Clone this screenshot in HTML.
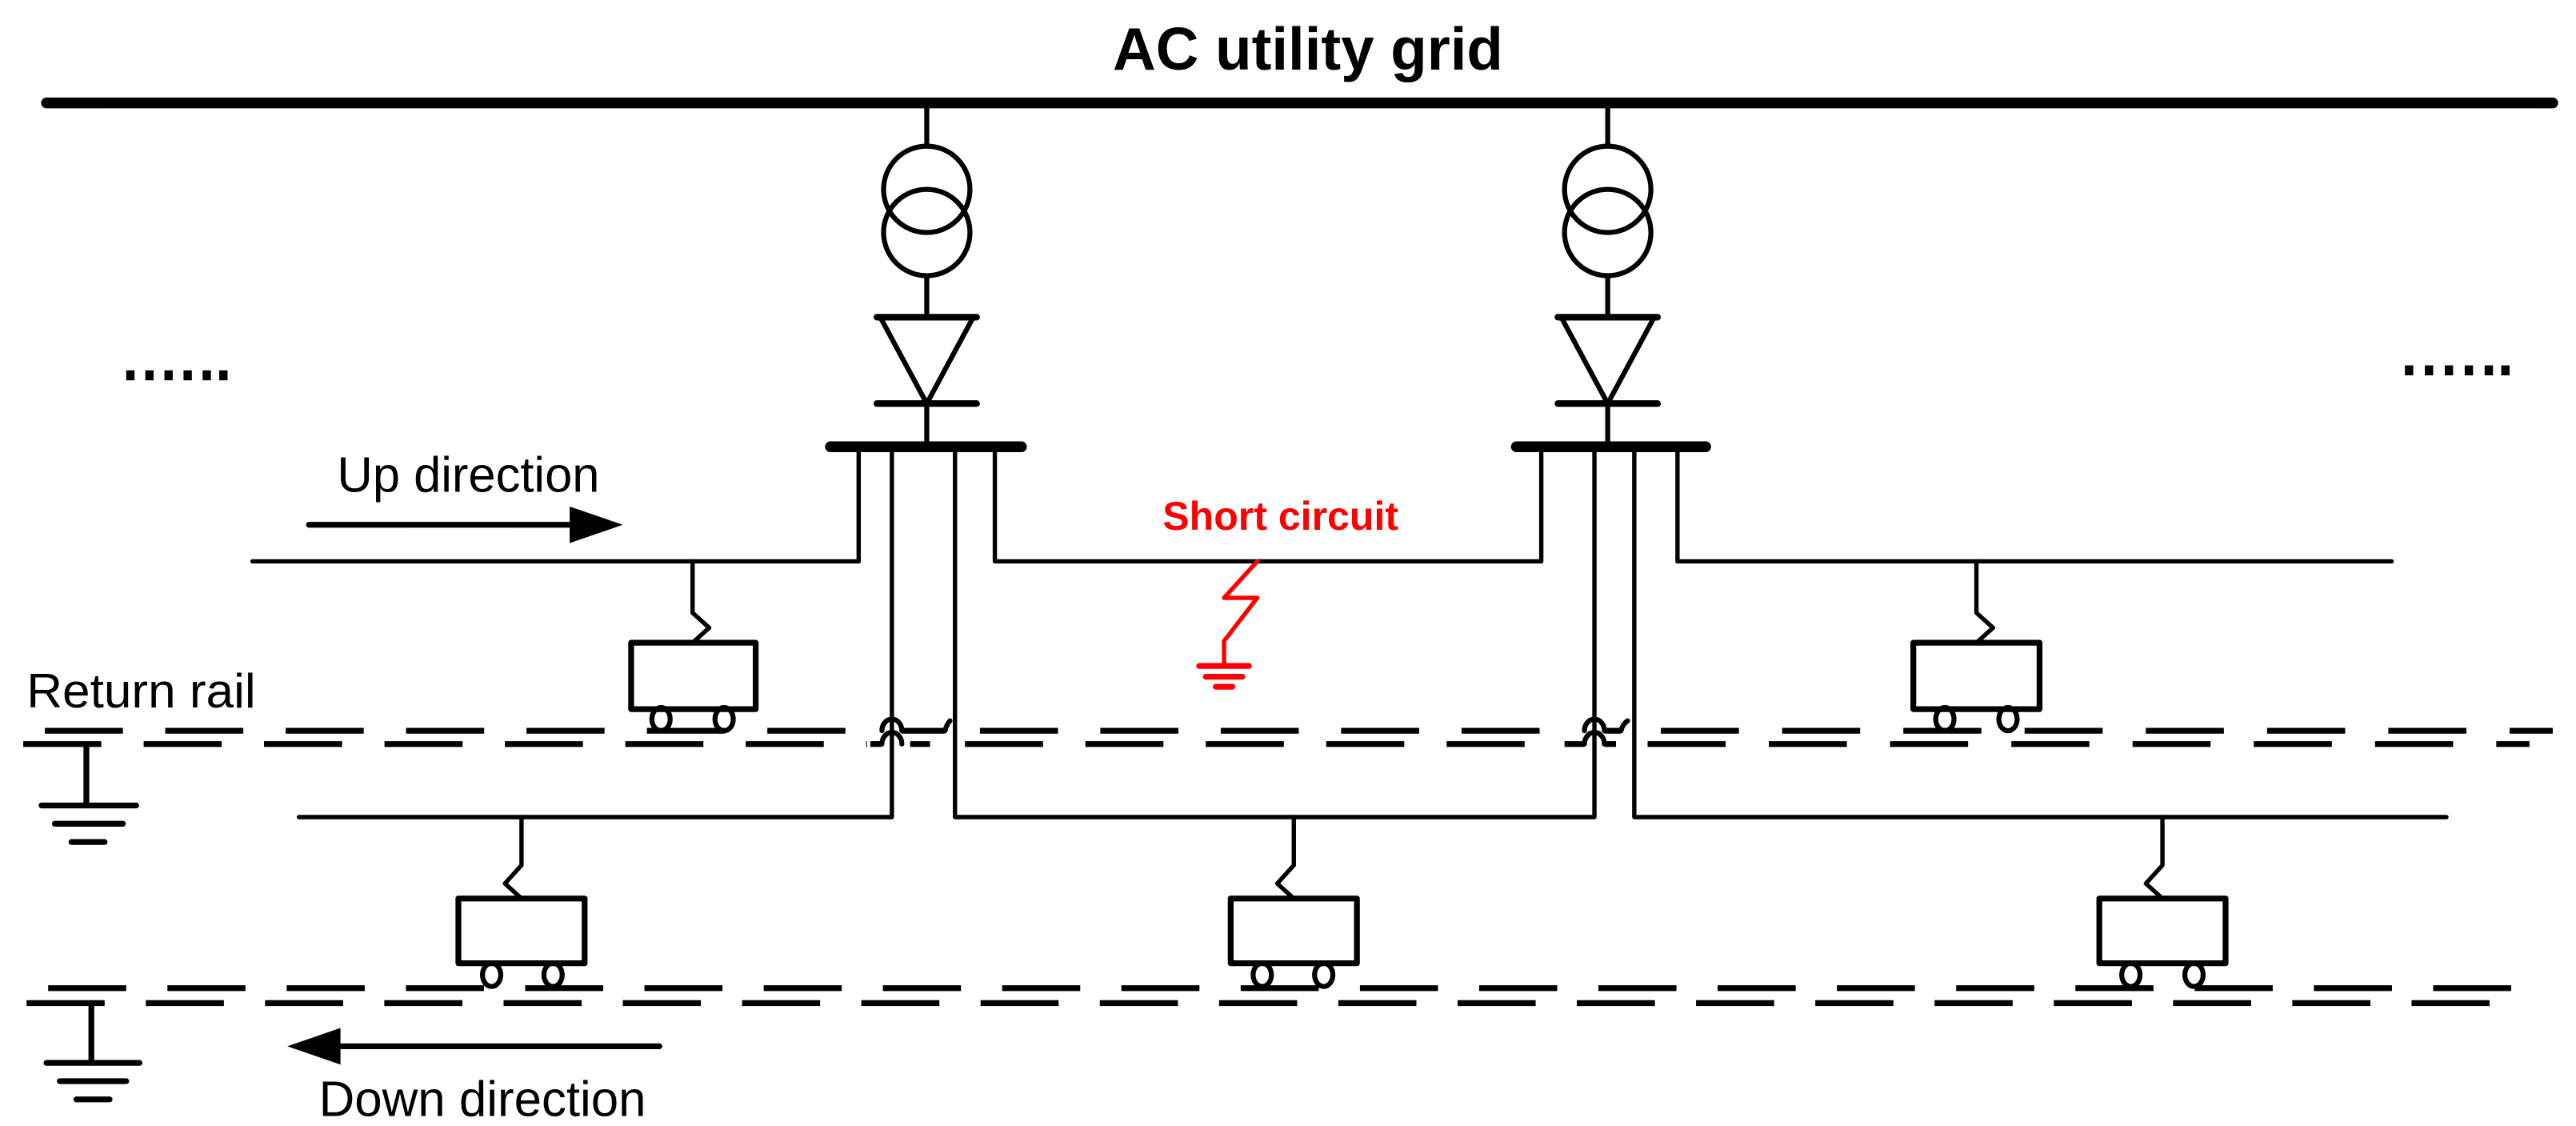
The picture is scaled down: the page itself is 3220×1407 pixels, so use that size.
<!DOCTYPE html>
<html><head><meta charset="utf-8"><style>html,body{margin:0;padding:0;background:#fff}svg{display:block}</style></head>
<body>
<svg width="3220" height="1407" viewBox="0 0 1551 678" preserveAspectRatio="none" xmlns="http://www.w3.org/2000/svg">
<g font-family="Liberation Sans, Arial, sans-serif">
<text x="670" y="42" font-size="36" font-weight="bold" textLength="235" lengthAdjust="spacingAndGlyphs">AC utility grid</text>
<text x="203" y="296" font-size="30" textLength="158" lengthAdjust="spacingAndGlyphs">Up direction</text>
<text x="16" y="426" font-size="29" textLength="138" lengthAdjust="spacingAndGlyphs">Return rail</text>
<text x="192" y="672" font-size="30" textLength="197" lengthAdjust="spacingAndGlyphs">Down direction</text>
<text x="700" y="319" font-size="24" font-weight="bold" fill="#f00" textLength="142" lengthAdjust="spacingAndGlyphs">Short circuit</text>
</g>
<g fill="#000">
<rect x="76" y="223" width="5" height="6"/><rect x="87.5" y="223" width="5" height="6"/><rect x="99" y="223" width="5" height="6"/><rect x="110.5" y="223" width="5" height="6"/><rect x="122" y="223" width="5" height="6"/><rect x="132" y="223" width="5" height="6"/>
<rect x="1448" y="220" width="5" height="6"/><rect x="1460" y="220" width="5" height="6"/><rect x="1472" y="220" width="5" height="6"/><rect x="1484" y="220" width="5" height="6"/><rect x="1496" y="220" width="5" height="6"/><rect x="1506" y="220" width="5" height="6"/>
<polygon points="343,305 375,316 343,327"/>
<polygon points="205,619 173,630 205,641"/>
</g>
<g stroke="#000" fill="none" stroke-linecap="round" stroke-linejoin="round">
<line x1="28" y1="62" x2="1537" y2="62" stroke-width="6.5"/>
<line x1="186" y1="316" x2="345" y2="316" stroke-width="3.5"/>
<line x1="205" y1="630" x2="397" y2="630" stroke-width="3.5"/>
<!-- stations -->
<g stroke-width="3">
<line x1="558" y1="62" x2="558" y2="88"/><circle cx="558" cy="114" r="26"/><circle cx="558" cy="140" r="26"/><line x1="558" y1="166" x2="558" y2="191"/>
<polygon points="530,191 586,191 558,243"/><line x1="558" y1="243" x2="558" y2="269"/>
<line x1="968" y1="62" x2="968" y2="88"/><circle cx="968" cy="114" r="26"/><circle cx="968" cy="140" r="26"/><line x1="968" y1="166" x2="968" y2="191"/>
<polygon points="940,191 996,191 968,243"/><line x1="968" y1="243" x2="968" y2="269"/>
</g>
<g stroke-width="4"><line x1="528" y1="191" x2="588" y2="191"/><line x1="528" y1="243" x2="588" y2="243"/>
<line x1="938" y1="191" x2="998" y2="191"/><line x1="938" y1="243" x2="998" y2="243"/></g>
<line x1="500" y1="269" x2="615" y2="269" stroke-width="6.5"/>
<line x1="913" y1="269" x2="1027" y2="269" stroke-width="6.5"/>
<!-- feeders -->
<g stroke-width="2.6">
<polyline points="152,338 517,338 517,269"/>
<polyline points="599,269 599,338 928,338 928,269"/>
<polyline points="1010,269 1010,338 1440,338"/>
<polyline points="180,492 537,492 537,269"/>
<polyline points="575,269 575,492 960,492 960,269"/>
<polyline points="984,269 984,492 1473,492"/>
</g>
<!-- rails -->
<g stroke-width="3.5" stroke-linecap="butt">
<line x1="27" y1="440" x2="520" y2="440" stroke-dasharray="47 25.5"/>
<line x1="14" y1="448" x2="522" y2="448" stroke-dasharray="47 25.5"/>
<line x1="590" y1="440" x2="945" y2="440" stroke-dasharray="47 25.5"/>
<line x1="581" y1="448" x2="940" y2="448" stroke-dasharray="47 25.5"/>
<line x1="1000" y1="440" x2="1537" y2="440" stroke-dasharray="47 26"/>
<line x1="992" y1="448" x2="1523" y2="448" stroke-dasharray="47 26"/>
<line x1="29" y1="595" x2="1527" y2="595" stroke-dasharray="47 24.8"/>
<line x1="16" y1="604" x2="1513" y2="604" stroke-dasharray="47 24.8"/>
<line x1="543" y1="440" x2="569" y2="440"/><line x1="548" y1="448" x2="560" y2="448"/><line x1="524" y1="448" x2="531" y2="448"/>
<line x1="966" y1="440" x2="976" y2="440"/><line x1="966" y1="448" x2="973" y2="448"/><line x1="942" y1="448" x2="954" y2="448"/>
</g>
<g stroke-width="3">
<path d="M531,440 A6,7 0 0 1 543,440"/><path d="M531,448 A6,7 0 0 1 543,448"/>
<path d="M954,440 A6,7 0 0 1 966,440"/><path d="M954,448 A6,7 0 0 1 966,448"/>
<path d="M569,440 Q570,436 572,434"/><path d="M976,440 Q977,436 980,434"/>
</g>
<!-- grounds -->
<g stroke-width="3.5">
<line x1="52" y1="448" x2="52" y2="485"/><line x1="25" y1="485" x2="82" y2="485"/><line x1="33" y1="496" x2="74" y2="496"/><line x1="43" y1="507" x2="63" y2="507"/>
<line x1="55" y1="604" x2="55" y2="640"/><line x1="28" y1="640" x2="84" y2="640"/><line x1="36" y1="651" x2="76" y2="651"/><line x1="46" y1="662" x2="66" y2="662"/>
</g>
<!-- short circuit -->
<g stroke="#f00" stroke-width="2.6">
<polyline points="757,338 737,360 757,360 737,386 737,401"/>
<line x1="722" y1="401" x2="752" y2="401" stroke-width="3.5"/><line x1="726" y1="407.5" x2="748" y2="407.5" stroke-width="3.5"/><line x1="732" y1="413.5" x2="742" y2="413.5" stroke-width="3.5"/>
</g>
<!-- trains -->
<g stroke-width="2.6">
<polyline points="417,338 417,369 427,378 417,387"/>
<polyline points="1190,338 1190,369 1200,378 1190,387"/>
<polyline points="314,492 314,521 304,532 314,541"/>
<polyline points="779,492 779,521 769,532 779,541"/>
<polyline points="1302,492 1302,521 1292,532 1302,541"/>
</g>
<g stroke-width="3.5">
<rect x="380" y="387" width="75" height="40"/>
<rect x="1152" y="387" width="76" height="40"/>
<rect x="276" y="541" width="76" height="39"/>
<rect x="741" y="541" width="76" height="39"/>
<rect x="1264" y="541" width="76" height="39"/>
</g>
<g stroke-width="3">
<ellipse cx="398" cy="433" rx="5.5" ry="7"/><ellipse cx="436" cy="433" rx="5.5" ry="7"/>
<ellipse cx="1171" cy="433" rx="5.5" ry="7"/><ellipse cx="1209" cy="433" rx="5.5" ry="7"/>
<ellipse cx="296" cy="587" rx="5.5" ry="7"/><ellipse cx="333" cy="587" rx="5.5" ry="7"/>
<ellipse cx="760" cy="587" rx="5.5" ry="7"/><ellipse cx="797" cy="587" rx="5.5" ry="7"/>
<ellipse cx="1283" cy="587" rx="5.5" ry="7"/><ellipse cx="1321" cy="587" rx="5.5" ry="7"/>
</g>
</g>
</svg>
</body></html>
